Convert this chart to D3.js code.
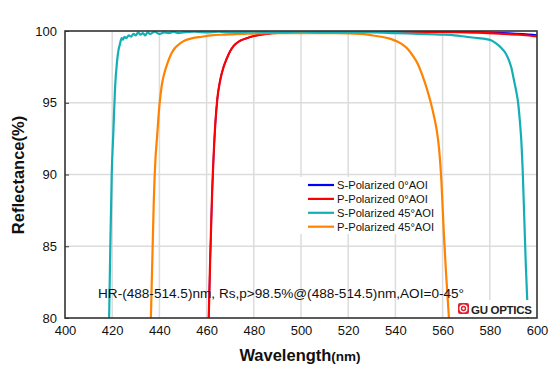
<!DOCTYPE html>
<html><head><meta charset="utf-8">
<script src="https://cdn.jsdelivr.net/npm/d3@7"></script>
<style>
html,body{margin:0;padding:0;background:#fff;}
svg{display:block;font-family:Arial,"Liberation Sans",sans-serif;}
</style></head>
<body><svg id="c" width="554" height="373"></svg>
<script>
// ---- data ----
const xTicks = [400,420,440,460,480,500,520,540,560,580,600];
const yTicks = [80,85,90,95,100];
const seriesNames = ["S-Polarized 0°AOI","P-Polarized 0°AOI","S-Polarized 45°AOI","P-Polarized 45°AOI"];
const seriesColors = ["#0000ff","#ff0000","#14afb5","#ff8200"];

const s0Wave = [460.5,460.9,461.5,462.2,463.3,464.5,465.8,467.2,468.6,470,471.4,474,477,480,483,488,495,510,530,550,565,575,582,588,594,600];
const s0Val  = [77,80,84,88,92.4,95.2,96.6,97.5,98.1,98.6,98.95,99.3,99.5,99.65,99.75,99.85,99.9,99.95,99.97,99.97,99.96,99.93,99.9,99.86,99.8,99.72];

const p0Wave = [460.5,460.9,461.5,462.2,463.3,464.5,465.8,467.2,468.6,470,471.4,474,477,480,483,488,495,510,530,550,565,575,582,588,594,600];
const p0Val  = [77,80,84,88,92.4,95.2,96.6,97.5,98.1,98.6,98.95,99.3,99.5,99.65,99.75,99.85,99.9,99.95,99.95,99.94,99.92,99.88,99.83,99.78,99.72,99.62];

const s45Wave = [418.3,418.7,419.2,419.8,420.5,421.2,422,422.6,423.3,424,424.6,425.2,426,427,428,429,430,431,432,433,434,435,436,438,440,442,444,446,448,450,455,460,465,470,480,490,500,510,520,530,540,550,560,565,570,575,578,580.5,582.5,584.7,586.5,588,589.2,590.2,591.2,592,592.7,593.3,594,594.6,595.2,595.8,596.4,597];
const s45Val  = [76,80,85,90,93,96,97.8,98.6,99.1,99.5,99.4,99.6,99.5,99.7,99.6,99.8,99.7,99.9,99.75,99.85,99.7,99.9,99.8,99.95,99.8,99.9,99.85,99.95,99.85,99.9,99.95,99.9,99.95,99.9,99.95,99.9,99.95,99.9,99.9,99.9,99.85,99.8,99.75,99.7,99.6,99.5,99.45,99.35,99.15,98.85,98.5,98.0,97.4,96.6,95.8,95.0,93.8,92.5,90,87,84,81.5,79,76];

const p45Wave = [436,436.4,437,437.6,438.3,439,440,441,442,443.5,445,446.5,448.5,451,454,458,462,468,475,485,500,515,525,530,534,538,541,543.5,545.5,547.5,549.5,551,552.5,554,555,556.3,557.5,558.5,559.5,560.5,561.5,562.5,563.3,564];
const p45Val  = [76,80,84,88,91,92.6,94.8,96.2,97,97.8,98.4,98.8,99.1,99.35,99.5,99.6,99.7,99.75,99.8,99.85,99.85,99.85,99.8,99.7,99.6,99.45,99.25,99,98.7,98.25,97.7,97.1,96.4,95.6,95,94.1,93.1,91.8,89.5,86,83,80.5,78,75];

const annotation = "HR-(488-514.5)nm, Rs,p>98.5%@(488-514.5)nm,AOI=0-45°";

// ---- chart ----
const svg = d3.select("#c");
const L=65, R=537, T=31, B=318;
const x = d3.scaleLinear().domain([400,600]).range([L,R]);
const y = d3.scaleLinear().domain([80,100]).range([B,T]);

svg.append("defs").append("clipPath").attr("id","clip")
  .append("rect").attr("x",L).attr("y",T).attr("width",R-L).attr("height",B-T);

// grid
const g = svg.append("g");
g.selectAll(".vg").data(xTicks.slice(1,-1)).join("line")
  .attr("x1",d=>x(d)).attr("x2",d=>x(d)).attr("y1",T).attr("y2",B)
  .attr("stroke","#dcdcdc").attr("stroke-width",1.5);
g.selectAll(".hg").data(yTicks.slice(1,-1)).join("line")
  .attr("y1",d=>y(d)).attr("y2",d=>y(d)).attr("x1",L).attr("x2",R)
  .attr("stroke","#dcdcdc").attr("stroke-width",1.5);

// lines
const line = d3.line().x(d=>x(d[0])).y(d=>y(d[1])).curve(d3.curveMonotoneX);
const series = [[s0Wave,s0Val],[p0Wave,p0Val],[s45Wave,s45Val],[p45Wave,p45Val]];
const widths = [1.6,2.2,2.2,2.2];
const lg = svg.append("g").attr("clip-path","url(#clip)");
const order = [0,1,3,2];
order.forEach(i=>{
  const pts = series[i][0].map((w,k)=>[w,series[i][1][k]]);
  lg.append("path").datum(pts).attr("d",line).attr("fill","none")
    .attr("stroke",seriesColors[i]).attr("stroke-width",widths[i]).attr("stroke-linejoin","round");
});

// legend box
const lgx=300, lgy=177;
svg.append("rect").attr("x",lgx).attr("y",lgy).attr("width",140).attr("height",57).attr("fill","#fff");
seriesNames.forEach((n,i)=>{
  const yy = 185 + i*13.9;
  svg.append("line").attr("x1",308).attr("x2",334).attr("y1",yy).attr("y2",yy)
    .attr("stroke",seriesColors[i]).attr("stroke-width",2.2);
  svg.append("text").attr("x",337).attr("y",yy+4).attr("font-size",11.2).attr("fill","#111").text(n);
});

// annotation
svg.append("text").attr("x",98).attr("y",298).attr("font-size",13.6).attr("fill","#111").text(annotation);

// logo
svg.append("rect").attr("x",455).attr("y",300).attr("width",79).attr("height",17).attr("fill","#fff");
svg.append("rect").attr("x",458).attr("y",303).attr("width",11).attr("height",11).attr("rx",2).attr("fill","#e02030");
svg.append("circle").attr("cx",463.5).attr("cy",308.5).attr("r",3.4).attr("fill","none").attr("stroke","#fff").attr("stroke-width",1.4);
svg.append("circle").attr("cx",463.5).attr("cy",308.5).attr("r",1.2).attr("fill","#fff");
svg.append("text").attr("x",471).attr("y",313.5).attr("font-size",11.5).attr("font-weight","bold")
  .attr("letter-spacing",-0.3).attr("fill","#222").text("GU OPTICS");

// frame
svg.append("rect").attr("x",L).attr("y",T).attr("width",R-L).attr("height",B-T)
  .attr("fill","none").attr("stroke","#333").attr("stroke-width",1.6);

// axes
const ya = svg.append("g").attr("transform",`translate(${L},0)`)
  .call(d3.axisLeft(y).tickValues(yTicks).tickSize(-4).tickPadding(8));
ya.select(".domain").remove();
ya.selectAll("line").attr("stroke","#333");
ya.selectAll("text").attr("font-size",13).attr("fill","#111").attr("font-family",null);

const xa = svg.append("g").attr("transform",`translate(0,${B})`)
  .call(d3.axisBottom(x).tickValues(xTicks).tickSize(0).tickPadding(8));
xa.select(".domain").remove();
xa.selectAll("text").attr("font-size",13).attr("fill","#111").attr("font-family",null);

// titles
svg.append("text").attr("transform","translate(24,175) rotate(-90)").attr("text-anchor","middle")
  .attr("font-size",16.5).attr("font-weight","bold").attr("fill","#111").text("Reflectance(%)");
const xt = svg.append("text").attr("x",300).attr("y",361).attr("text-anchor","middle")
  .attr("font-size",16.5).attr("font-weight","bold").attr("fill","#111");
xt.append("tspan").text("Wavelength");
xt.append("tspan").attr("font-size",13.5).text("(nm)");
</script></body></html>
